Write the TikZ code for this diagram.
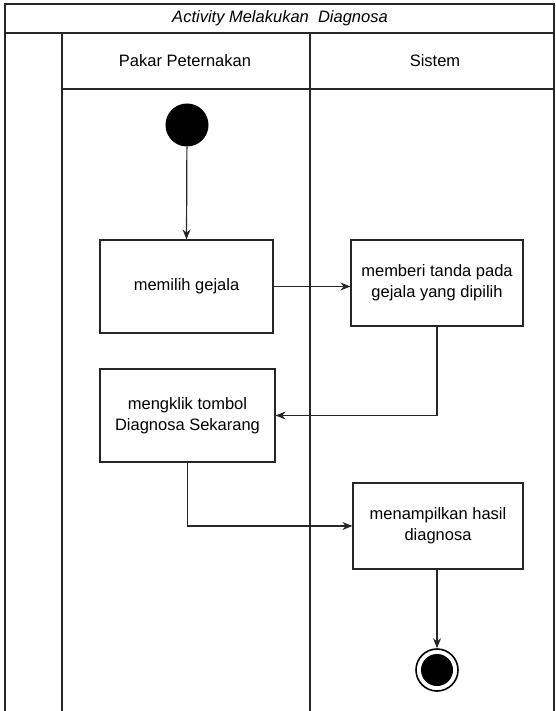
\documentclass[tikz,border=0pt]{standalone}
\usepackage{fontspec}
\setmainfont{Liberation Sans}
\usetikzlibrary{arrows.meta}

\tikzset{
  lane/.style={line width=1.2pt, draw=black!85},
  act/.style={draw=black!85, line width=1.2pt, minimum width=#1, align=center, font=\fontsize{16.5}{21}\selectfont, inner sep=0pt},
  flow/.style={line width=1.2pt, draw=black!85, -{Stealth[length=10pt,width=8pt]}},
}

\begin{document}
\begin{tikzpicture}[x=1pt,y=-1pt]
\useasboundingbox (0,0) rectangle (555,711);
\draw[lane] (5,712) -- (5,4) -- (554,4) -- (554,712);
\draw[lane] (5,33) -- (554,33);
\draw[lane] (62,33) -- (62,712);
\draw[lane] (310,33) -- (310,712);
\draw[lane] (62,89) -- (554,89);
\node (title) at (280,18) {\fontsize{16.5}{18}\selectfont\itshape Activity Melakukan\ \ Diagnosa};
\node (pakar) at (185,61) {\fontsize{16.5}{18}\selectfont Pakar Peternakan};
\node (sistem) at (435,61) {\fontsize{16.5}{18}\selectfont Sistem};
\node[circle, fill=black, minimum size=43pt, inner sep=0pt] (start) at (187,125) {};
\node[act=173pt, minimum height=93pt] (pilih) at (186.5,286.5) {memilih gejala};
\node[act=172pt, minimum height=86pt] (tanda) at (437,283) {memberi tanda pada\\gejala yang dipilih};
\node[act=175pt, minimum height=93pt] (klik) at (187.5,415.5) {mengklik tombol\\Diagnosa Sekarang};
\node[act=170pt, minimum height=86pt] (hasil) at (438,526) {menampilkan hasil\\diagnosa};
\node[circle, draw=black, line width=1.6pt, fill=white, minimum size=42pt, inner sep=0pt] (finish) at (437,670) {};
\node[circle, fill=black, minimum size=32pt, inner sep=0pt] (finishdot) at (finish.center) {};
\draw[flow] (start) -- (pilih.north);
\draw[flow, line width=1.8pt] (pilih.east) -- (pilih.east -| tanda.west);
\draw[flow] (tanda.south) -- (tanda.south |- klik.east) -- (klik.east);
\draw[flow] (klik.south) |- (hasil.west);
\draw[flow] (hasil.south -| finish.north) -- (finish.north);
\end{tikzpicture}
\end{document}
